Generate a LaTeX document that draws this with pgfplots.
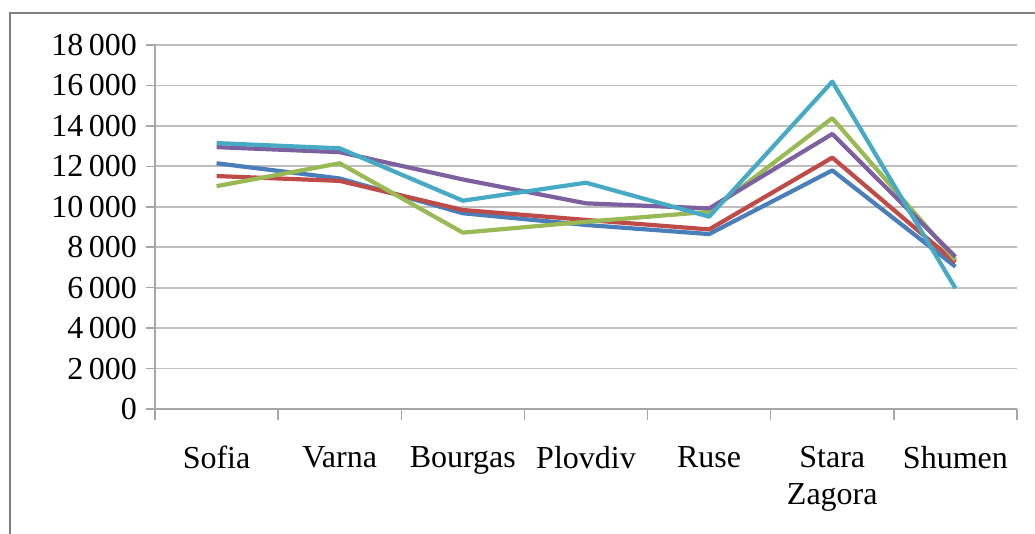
\documentclass[border=0pt]{standalone}
\usepackage{fontspec}
\setmainfont{Liberation Serif}
\usepackage{pgfplots}
\pgfplotsset{compat=1.18}

\definecolor{sBlue}{HTML}{4A7EBB}
\definecolor{sRed}{HTML}{BE4B48}
\definecolor{sGreen}{HTML}{98B954}
\definecolor{sPurple}{HTML}{7D60A0}
\definecolor{sCyan}{HTML}{46AAC5}
\definecolor{gridgray}{HTML}{BEBEBE}
\definecolor{axisgray}{HTML}{A6A6A6}
\definecolor{framegray}{HTML}{808080}

\begin{document}
\begin{tikzpicture}[x=1pt,y=1pt]
\path[use as bounding box] (0,0) rectangle (1035,534);
% chart area border (runs past the right and bottom edges)
\draw[framegray, line width=2pt] (10,-20) -- (10,521) -- (1060,521);
\begin{axis}[
  at={(155pt,125pt)}, anchor=south west,
  scale only axis, width=862pt, height=364pt,
  xmin=-0.5, xmax=6.5, ymin=0, ymax=18000,
  xtick={0,...,6},
  xticklabels={Sofia,Varna,Bourgas,Plovdiv,Ruse,{Stara\\Zagora},Shumen},
  minor xtick={-0.5,0.5,...,6.5},
  ytick={0,2000,...,18000},
  scaled y ticks=false,
  /pgf/number format/.cd, 1000 sep={\,}, assume math mode=true,
  /pgfplots/.cd,
  tick label style={font=\fontsize{32}{37}\selectfont, text=black},
  xticklabel style={align=center, anchor=north, inner sep=0pt, yshift=-28pt},
  yticklabel style={anchor=east, inner sep=0pt, xshift=-9pt},
  tick align=outside,
  axis x line*=bottom, axis y line*=left,
  x axis line style={axisgray, line width=1.8pt, -},
  y axis line style={axisgray, line width=1.8pt, -},
  major tick style={axisgray, line width=1.5pt},
  minor tick style={axisgray, line width=1.5pt},
  major x tick style={draw=none},
  minor tick length=11pt,
  major tick length=9pt,
  ymajorgrids,
  major grid style={gridgray, line width=1.8pt},
  every axis plot/.append style={line width=4.2pt, line join=round, mark=none},
  clip=false,
]
\addplot[sBlue] coordinates {(0,12150) (1,11400) (2,9680) (3,9100) (4,8650) (5,11800) (6,7040)};
\addplot[sRed] coordinates {(0,11520) (1,11280) (2,9840) (3,9350) (4,8880) (5,12430) (6,7250)};
\addplot[sGreen] coordinates {(0,11020) (1,12150) (2,8720) (3,9260) (4,9750) (5,14380) (6,7370)};
\addplot[sPurple] coordinates {(0,12950) (1,12700) (2,11350) (3,10170) (4,9920) (5,13600) (6,7530)};
\addplot[sCyan] coordinates {(0,13150) (1,12890) (2,10300) (3,11190) (4,9510) (5,16190) (6,5970)};
\end{axis}
\end{tikzpicture}
\end{document}
